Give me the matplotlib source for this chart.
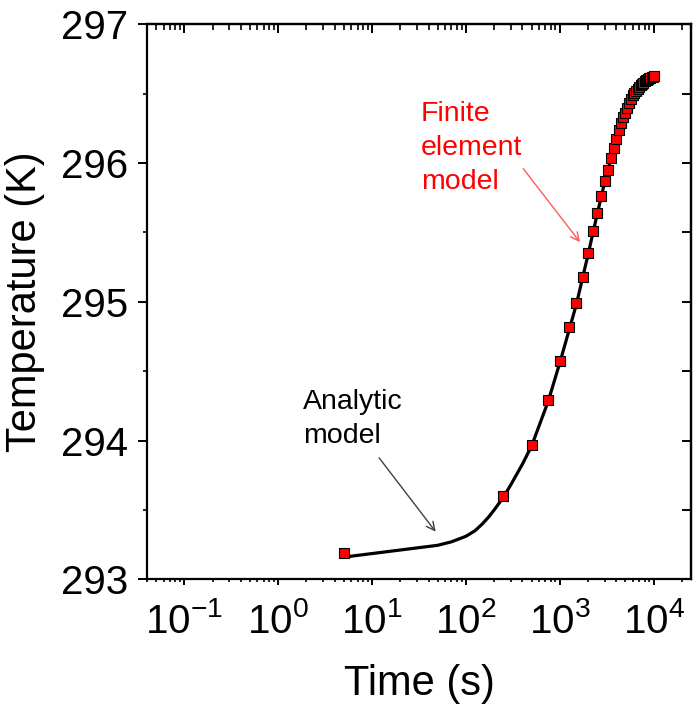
import matplotlib
matplotlib.use("Agg")
import matplotlib.pyplot as plt
from matplotlib.ticker import MultipleLocator, LogLocator, NullFormatter

plt.rcParams['font.family'] = ['Liberation Sans', 'DejaVu Sans']
plt.rcParams['mathtext.fontset'] = 'custom'
plt.rcParams['mathtext.rm'] = 'Liberation Sans'
plt.rcParams['mathtext.it'] = 'Liberation Sans:italic'

# finite element model points (time in s, temperature in K)
fe_time = [5, 250, 500, 750, 1000, 1250, 1500, 1750, 2000, 2250, 2500, 2750,
           3000, 3250, 3500, 3750, 4000, 4250, 4500, 4750, 5000, 5250, 5500,
           5750, 6000, 6250, 6500, 6750, 7000, 7250, 7500, 7750, 8000, 8250,
           8500, 8750, 9000, 9250, 9500, 9750, 10000]
fe_temp = [293.19, 293.60, 293.97, 294.29, 294.575, 294.82, 294.99, 295.18,
           295.35, 295.51, 295.64, 295.76, 295.87, 295.95, 296.04, 296.11,
           296.17, 296.24, 296.29, 296.33, 296.36, 296.40, 296.43, 296.46,
           296.49, 296.505, 296.52, 296.535, 296.55, 296.56, 296.57, 296.58,
           296.59, 296.595, 296.60, 296.605, 296.61, 296.615, 296.62, 296.623,
           296.625]

# analytic model curve
an_time = [5, 50, 70, 100, 125, 150, 175, 200, 250, 300, 400, 500, 750, 1000,
           1500, 2000, 2500, 3000, 3500, 4000, 5000, 6000, 7000, 8000, 9000,
           10000]
an_temp = [293.16, 293.245, 293.27, 293.31, 293.35, 293.40, 293.45, 293.50,
           293.59, 293.68, 293.83, 293.96, 294.28, 294.56, 294.98, 295.34,
           295.63, 295.86, 296.03, 296.16, 296.35, 296.47, 296.54, 296.58,
           296.605, 296.62]

fig = plt.figure(figsize=(6.96, 7.06), dpi=100)
ax = fig.add_axes([147 / 696, 1 - 579.3 / 706, 544 / 696, 555 / 706])

ax.plot(an_time, an_temp, color="black", linewidth=2.3, zorder=2)
ax.plot(fe_time, fe_temp, linestyle="none", marker="s", markersize=6.5,
        markerfacecolor="red", markeredgecolor="black", markeredgewidth=0.8,
        zorder=3)

ax.set_xscale("log")
ax.set_xlim(0.04, 2.5e4)
ax.set_ylim(293, 297)
ax.xaxis.set_major_locator(LogLocator(base=10, numticks=20))
ax.xaxis.set_minor_locator(LogLocator(base=10, subs=range(2, 10), numticks=100))
ax.xaxis.set_minor_formatter(NullFormatter())
ax.yaxis.set_major_locator(MultipleLocator(1))
ax.yaxis.set_minor_locator(MultipleLocator(0.5))

for sp in ax.spines.values():
    sp.set_linewidth(1.6)

ax.tick_params(axis="x", which="major", direction="out", length=4.5, width=1.4,
               labelsize=29, pad=12)
ax.tick_params(axis="x", which="minor", direction="out", length=2.5, width=1.2)
ax.tick_params(axis="y", which="major", direction="out", length=6.5, width=1.4,
               labelsize=29, pad=7)
ax.tick_params(axis="y", which="minor", direction="out", length=3, width=1.2)

top = ax.secondary_xaxis("top")
top.tick_params(which="major", direction="in", length=6.5, width=1.4, labeltop=False)
top.tick_params(which="minor", direction="in", length=4, width=1.2)
top.xaxis.set_major_locator(LogLocator(base=10, numticks=20))
top.xaxis.set_minor_locator(LogLocator(base=10, subs=range(2, 10), numticks=100))
top.xaxis.set_minor_formatter(NullFormatter())
top.spines["top"].set_linewidth(1.6)

right = ax.secondary_yaxis("right")
right.tick_params(which="major", direction="in", length=6.5, width=1.4, labelright=False)
right.tick_params(which="minor", direction="in", length=4, width=1.2)
right.yaxis.set_minor_locator(MultipleLocator(0.5))
right.spines["right"].set_linewidth(1.6)

ax.set_xlabel("Time (s)", fontsize=30)
ax.set_ylabel("Temperature (K)", fontsize=30)
ax.xaxis.set_label_coords(0.5, -0.153)
ax.yaxis.set_label_coords(-0.188, 0.5)

# va="baseline" on multi-line text anchors the last line
ax.annotate("", xy=(47.6, 293.343), xytext=(11.9, 293.875),
            arrowprops=dict(arrowstyle="->,head_length=0.6,head_width=0.3",
                            color="#404040", lw=1, shrinkA=0, shrinkB=0))
ax.text(1.84, 293.98, "Analytic\nmodel", fontsize=20.5, color="black",
        ha="left", va="baseline", linespacing=1.42)

ax.annotate("", xy=(1641, 295.43), xytext=(408, 295.96),
            arrowprops=dict(arrowstyle="->,head_length=0.6,head_width=0.3",
                            color="#ff5a5a", lw=1, shrinkA=0, shrinkB=0))
ax.text(33.2, 295.81, "Finite\nelement\nmodel", fontsize=20.5, color="red",
        ha="left", va="baseline", linespacing=1.42)

fig.savefig("out.png", dpi=100)
